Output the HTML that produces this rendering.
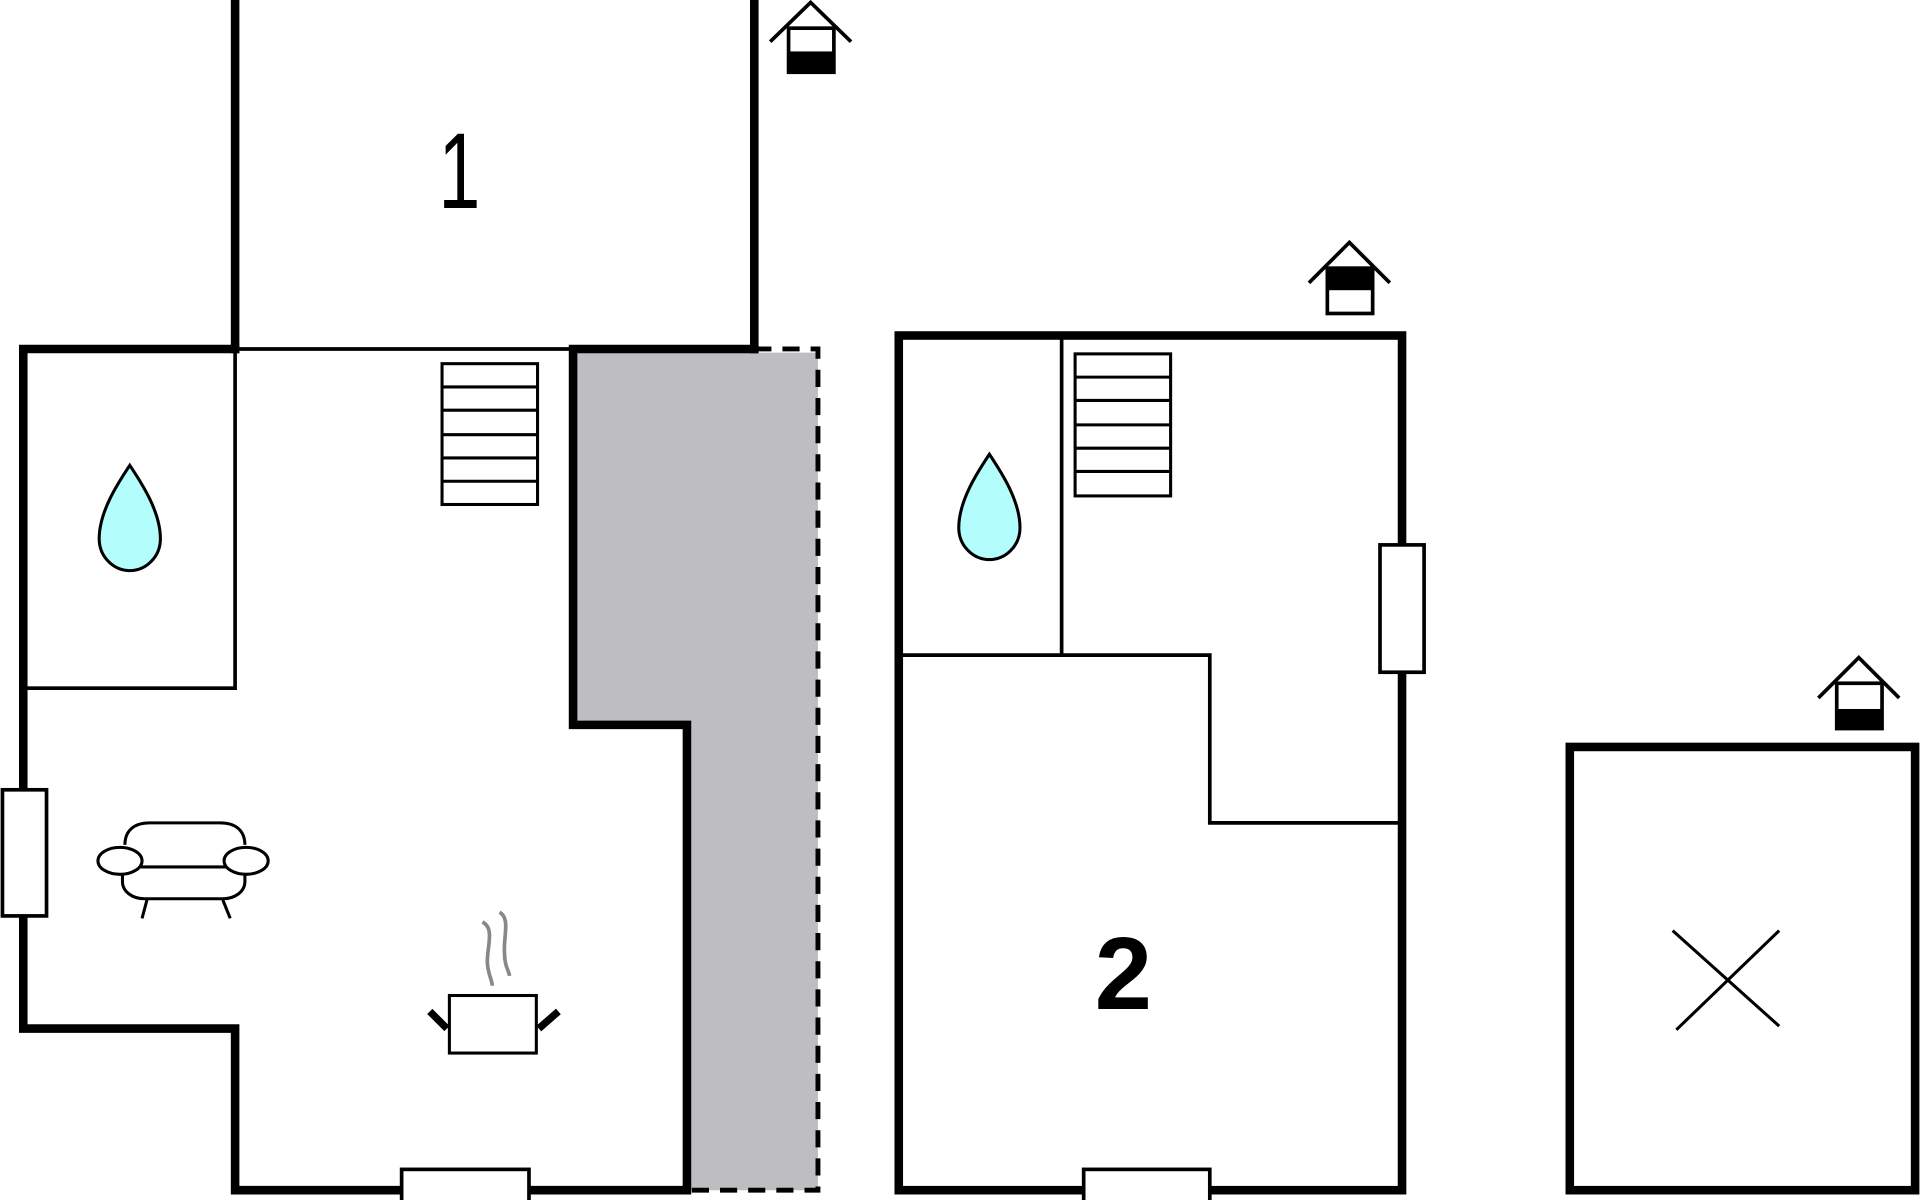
<!DOCTYPE html>
<html><head><meta charset="utf-8"><style>html,body{margin:0;padding:0;background:#fff}svg{display:block}</style></head>
<body>
<svg width="1920" height="1200" viewBox="0 0 1568 980" xmlns="http://www.w3.org/2000/svg">
<rect width="1568" height="980" fill="#fff"/>
<polygon points="471,288 668,288 668,972 564,972 564,590 471,590" fill="#bebec0"/>
<g fill="none" stroke="#000" stroke-linecap="square">
<line x1="192" y1="0" x2="192" y2="285" stroke-width="7"/>
<line x1="616" y1="0" x2="616" y2="285" stroke-width="7"/>
<line x1="192" y1="285" x2="468" y2="285" stroke-width="3"/>
<path d="M192,285 H19 V840 H192 V972 H561 V592 H468 V285 H616" stroke-width="7"/>
<path d="M616,285 H668 V972 H561" stroke-width="4" stroke-dasharray="14,9" stroke-linecap="butt"/>
<rect x="19" y="285" width="173" height="277" stroke-width="3"/>
</g>
<rect x="2" y="645" width="36" height="103" fill="#fff" stroke="#000" stroke-width="3"/>
<rect x="328" y="955" width="104" height="30" fill="#fff" stroke="#000" stroke-width="3"/>
<g fill="#fff" stroke="#000" stroke-width="2.5">
<rect x="361" y="297" width="78" height="115"/>
<line x1="361" y1="316" x2="439" y2="316"/><line x1="361" y1="335" x2="439" y2="335"/><line x1="361" y1="355" x2="439" y2="355"/><line x1="361" y1="374" x2="439" y2="374"/><line x1="361" y1="393" x2="439" y2="393"/>
</g>
<path d="M106,380 C96,395 81,418 81,440 C81,455 93,466 106,466 C119,466 131,455 131,440 C131,418 116,395 106,380 Z" fill="#b3fdfd" stroke="#000" stroke-width="2.5"/>
<g fill="#fff" stroke="#000" stroke-width="2.5">
<path d="M102,690 C102,678 110,672 122,672 H180 C192,672 200,678 200,690"/>
<path d="M100,708 V720 C100,728 108,734 118,734 H182 C192,734 200,728 200,720 V708"/>
<line x1="115" y1="708" x2="186" y2="708"/>
<ellipse cx="98" cy="703" rx="18" ry="11"/>
<ellipse cx="201" cy="703" rx="18" ry="11"/>
<line x1="120" y1="735" x2="116" y2="750"/><line x1="182" y1="735" x2="188" y2="750"/>
</g>
<g stroke="#000" stroke-width="2.5" fill="#fff">
<rect x="367" y="813" width="71" height="47"/>
<line x1="365" y1="840" x2="351" y2="826" stroke-width="6"/>
<line x1="440" y1="840" x2="456" y2="826" stroke-width="6"/>
</g>
<g stroke="#888" stroke-width="3" fill="none">
<path d="M394,753 C404,758 398,772 398,785 C398,795 402,800 402,805"/>
<path d="M408,745 C417,750 411,765 412,778 C412,790 416,793 416,797"/>
</g>
<text x="0" y="0" transform="translate(358,170) scale(0.7,1)" font-family="Liberation Sans, sans-serif" font-size="88" fill="#000">1</text>
<g stroke="#000" stroke-width="3" fill="none">
<polyline points="629,34 662,2 695,34"/>
<rect x="644" y="23" width="37" height="36" fill="#fff"/>
<polyline points="1069,231 1102,198 1135,231"/>
<rect x="1084" y="219" width="37" height="37" fill="#fff"/>
<polyline points="1485,570 1518,537 1551,570"/>
<rect x="1500" y="558" width="37" height="37" fill="#fff"/>
</g>
<rect x="644" y="42" width="37" height="18" fill="#000"/>
<rect x="1084" y="219" width="37" height="18" fill="#000"/>
<rect x="1500" y="579" width="37" height="17" fill="#000"/>
<g fill="none" stroke="#000">
<rect x="734" y="274" width="411" height="698" stroke-width="7"/>
<line x1="867" y1="274" x2="867" y2="535" stroke-width="3"/>
<polyline points="734,535 988,535 988,672 1145,672" stroke-width="3"/>
</g>
<rect x="1127" y="445" width="36" height="104" fill="#fff" stroke="#000" stroke-width="3"/>
<rect x="885" y="955" width="103" height="30" fill="#fff" stroke="#000" stroke-width="3"/>
<g fill="#fff" stroke="#000" stroke-width="2.5">
<rect x="878" y="289" width="78" height="116"/>
<line x1="878" y1="308" x2="956" y2="308"/><line x1="878" y1="327" x2="956" y2="327"/><line x1="878" y1="347" x2="956" y2="347"/><line x1="878" y1="366" x2="956" y2="366"/><line x1="878" y1="385" x2="956" y2="385"/>
</g>
<path d="M808,371 C798,386 783,409 783,431 C783,446 795,457 808,457 C821,457 833,446 833,431 C833,409 818,386 808,371 Z" fill="#b3fdfd" stroke="#000" stroke-width="2.5"/>
<text x="894" y="824" font-family="Liberation Sans, sans-serif" font-size="84" font-weight="bold" fill="#000">2</text>
<rect x="1282" y="610" width="282" height="362" fill="none" stroke="#000" stroke-width="7"/>
<g stroke="#000" stroke-width="2.5">
<line x1="1366" y1="760" x2="1453" y2="838"/>
<line x1="1453" y1="760" x2="1369" y2="841"/>
</g>
</svg>
</body></html>
